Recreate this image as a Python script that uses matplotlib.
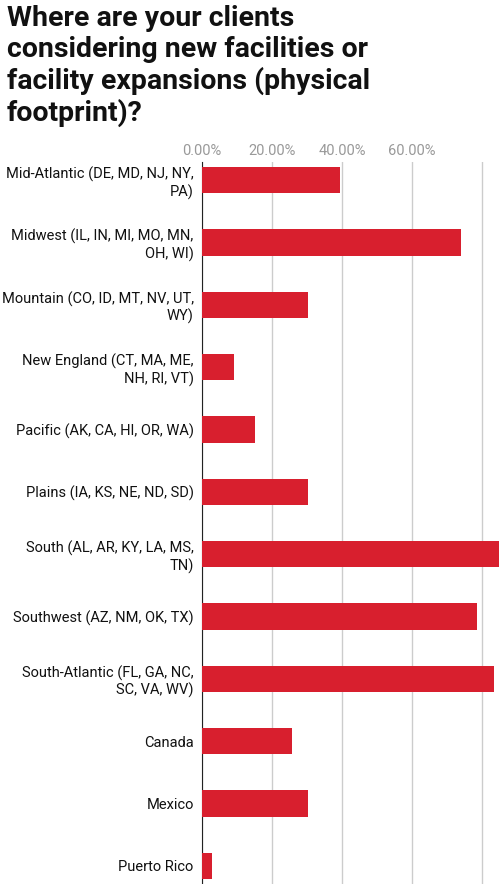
import matplotlib.pyplot as plt
from matplotlib.ticker import FuncFormatter

plt.rcParams['font.family'] = ['Roboto', 'DejaVu Sans']

regions = [
    "Mid-Atlantic (DE, MD, NJ, NY,\nPA)",
    "Midwest (IL, IN, MI, MO, MN,\nOH, WI)",
    "Mountain (CO, ID, MT, NV, UT,\nWY)",
    "New England (CT, MA, ME,\nNH, RI, VT)",
    "Pacific (AK, CA, HI, OR, WA)",
    "Plains (IA, KS, NE, ND, SD)",
    "South (AL, AR, KY, LA, MS,\nTN)",
    "Southwest (AZ, NM, OK, TX)",
    "South-Atlantic (FL, GA, NC,\nSC, VA, WV)",
    "Canada",
    "Mexico",
    "Puerto Rico",
]
shares = [39.4, 74.0, 30.3, 9.1, 15.2, 30.3, 85.0, 78.6, 83.4, 25.7, 30.3, 3.0]
ticks = [0, 20, 40, 60, 80]

fig = plt.figure(figsize=(5, 8.84), dpi=100)
fig.text(0.014, 0.994, "Where are your clients\nconsidering new facilities or\nfacility expansions (physical\nfootprint)?",
         fontsize=20.5, fontweight='bold', va='top', ha='left', linespacing=1.17, color='#111111')

ax = fig.add_axes([0.404, 0.0, 0.596, 0.8167])
y = list(range(len(regions)))
ax.barh(y, shares, height=0.42, color='#D81F2E', zorder=3)
ax.set_yticks(y)
ax.set_yticklabels(regions, fontsize=10.5, color='#111111')
ax.set_ylim(11.29, -0.29)
ax.set_xlim(0, 85.2)
ax.set_xticks(ticks)
ax.xaxis.set_major_formatter(FuncFormatter(lambda v, p: f"{v:.2f}%" if v < 80 else ""))
ax.xaxis.tick_top()
ax.tick_params(axis='x', colors='#999999', labelsize=10.5, length=0, pad=3)
ax.tick_params(axis='y', length=0, pad=6)
ax.grid(axis='x', color='#cccccc', linewidth=1, zorder=0)
for s in ['top', 'right', 'bottom']:
    ax.spines[s].set_visible(False)
ax.spines['left'].set_color('#222222')

fig.savefig('out.png', dpi=100)
